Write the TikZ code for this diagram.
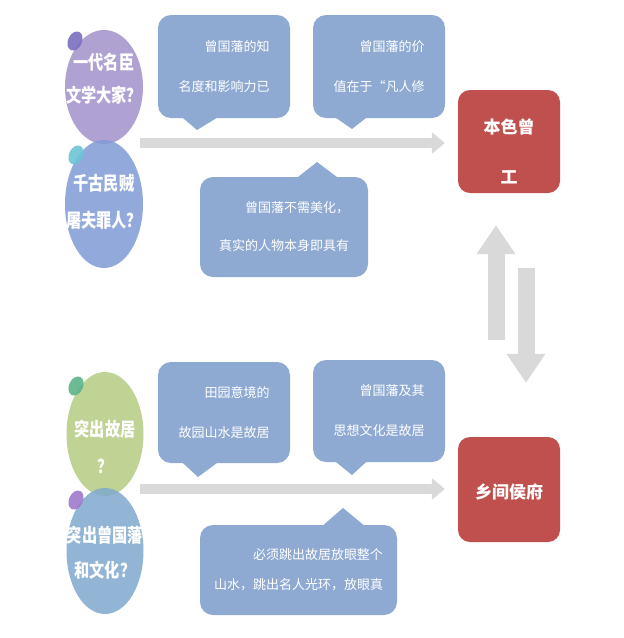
\documentclass[tikz,border=0pt]{standalone}
\usepackage{fontspec}
\usepackage{graphicx}
\setmainfont{Noto Sans CJK SC}
\usetikzlibrary{arrows.meta,shapes.geometric}
\definecolor{bubbleblue}{HTML}{8EAAD2}
\definecolor{flowgray}{HTML}{D9D9D9}
\definecolor{boxred}{HTML}{C0504D}
\definecolor{ovpurple}{HTML}{A391CC}
\definecolor{ovblue}{HTML}{7F9BD6}
\definecolor{ovgreen}{HTML}{B4CC82}
\definecolor{ovsky}{HTML}{80A9CF}
\definecolor{dotpurple}{HTML}{7B6FC0}
\definecolor{dotteal}{HTML}{6CC5D6}
\definecolor{dotgreen}{HTML}{5BB48A}
\definecolor{dotlilac}{HTML}{9F7ACB}
% condensed bold lines inside the ovals
\newcommand{\ovline}[1]{\scalebox{0.8}[1]{#1}}

\begin{document}
\begin{tikzpicture}[
  x=1pt,
  y=-1pt,
  line join=round,
  bubble/.style={fill=bubbleblue,rounded corners=13pt,inner sep=0pt,
    text=white,align=right,font=\fontsize{13}{16}\selectfont},
  oval/.style={ellipse,inner sep=0pt,fill=#1,fill opacity=0.85},
  dot/.style={fill=#1,fill opacity=0.9},
  ovaltext/.style={text=white,align=center,font=\fontsize{19}{21}\selectfont\bfseries},
  redbox/.style={fill=boxred,rounded corners=12pt,minimum width=102pt,inner sep=0pt},
  redtext/.style={text=white,align=center,font=\fontsize{17}{19}\selectfont\bfseries},
  flow/.style={draw=flowgray,line width=10pt,-{Triangle[length=13pt,width=21pt]}},
  vflow/.style={draw=flowgray,line width=17pt,-{Triangle[length=29pt,width=37pt]}}
]
  % Match the artwork frame.
  \useasboundingbox[fill=white] (0,0) rectangle (624,638);

  % Red result boxes on the right.
  \node[redbox,minimum height=103pt] (r1) at (509,141.5) {};
  \node[redbox,minimum height=105pt] (r2) at (509,489.5) {};
  \node[redtext] (r1t) at ([yshift=-10]r1.center) {本色曾\\[31pt]工};
  \node[redtext] (r2t) at ([yshift=-2]r2.center) {乡间侯府};

  % Grey flow arrows.
  \coordinate (a1) at (140,143);
  \coordinate (a2) at (140,489);
  \coordinate (u1) at (496,340);
  \coordinate (d1) at (526,268);
  \draw[flow,shorten >=13pt] (a1) -- (a1 -| r1.west);
  \draw[flow,shorten >=13pt] (a2) -- (a2 -| r2.west);
  \draw[vflow,shorten >=32pt] (u1) -- (u1 |- r1.south);
  \draw[vflow,shorten >=54pt] (d1) -- (d1 |- r2.north);

  % Question ovals on the left.
  \node[oval=ovpurple,minimum width=78pt,minimum height=114pt] (e1) at (104,87) {};
  \node[oval=ovblue,minimum width=78pt,minimum height=128pt] (e2) at (104,204) {};
  \node[oval=ovgreen,minimum width=77pt,minimum height=124pt] (e3) at (105,434) {};
  \node[oval=ovsky,minimum width=77pt,minimum height=126pt] (e4) at (105,551) {};
  \fill[dot=dotpurple] (75,41) ellipse[x radius=7,y radius=10,rotate=-25];
  \fill[dot=dotteal] (76,155) ellipse[x radius=7,y radius=10,rotate=-25];
  \fill[dot=dotgreen] (76,386) ellipse[x radius=7,y radius=10,rotate=-25];
  \fill[dot=dotlilac] (76,500) ellipse[x radius=7,y radius=10,rotate=-25];
  \node[ovaltext] (e1t) at (104,78.5) {\ovline{一代名臣}\\[12pt]\ovline{文学大家？}};
  \node[ovaltext] (e2t) at (104,201.5) {\ovline{千古民贼}\\[16pt]\ovline{屠夫罪人？}};
  \node[ovaltext] (e3t) at (105,446.5) {\ovline{突出故居}\\[16pt]\ovline{？}};
  \node[ovaltext] (e4t) at (105,552.5) {\ovline{突出曾国藩}\\[14pt]\ovline{和文化？}};

  % Speech bubbles.
  \node[bubble,minimum width=132pt,minimum height=103pt] (b1) at (224,66.5)
    {曾国藩的知\\[24pt]名度和影响力已};
  \node[bubble,minimum width=132pt,minimum height=103pt] (b2) at (379,66.5)
    {曾国藩的价\\[24pt]值在于“凡人修};
  \node[bubble,minimum width=168pt,minimum height=100pt] (b3) at (284,227)
    {曾国藩不需美化，\\[22pt]真实的人物本身即具有};
  \node[bubble,minimum width=132pt,minimum height=101pt] (b4) at (224,412.5)
    {田园意境的\\[24pt]故园山水是故居};
  \node[bubble,minimum width=132pt,minimum height=102pt] (b5) at (379,411)
    {曾国藩及其\\[24pt]思想文化是故居};
  \node[bubble,minimum width=197pt,minimum height=90pt] (b6) at (298.5,570)
    {必须跳出故居放眼整个\\[14pt]山水，跳出名人光环，放眼真};

  % Bubble tails.
  \coordinate (b1tip) at (197,130);
  \coordinate (b2tip) at (352,129);
  \coordinate (b4tip) at (198,477);
  \coordinate (b5tip) at (352,475);
  \coordinate (b3tip) at (317,162);
  \coordinate (b6tip) at (343,508);
  \foreach \b/\l/\r in {b1/-42/-6,b2/-44/-12,b4/-42/-6,b5/-44/-12} {
    \fill[bubbleblue] ([xshift=\l,yshift=1]\b.south) -- (\b tip)
      -- ([xshift=\r,yshift=1]\b.south) -- cycle;
  }
  \foreach \b/\l/\r in {b3/13/54,b6/24/66} {
    \fill[bubbleblue] ([xshift=\l,yshift=-1]\b.north) -- (\b tip)
      -- ([xshift=\r,yshift=-1]\b.north) -- cycle;
  }
\end{tikzpicture}
\end{document}
